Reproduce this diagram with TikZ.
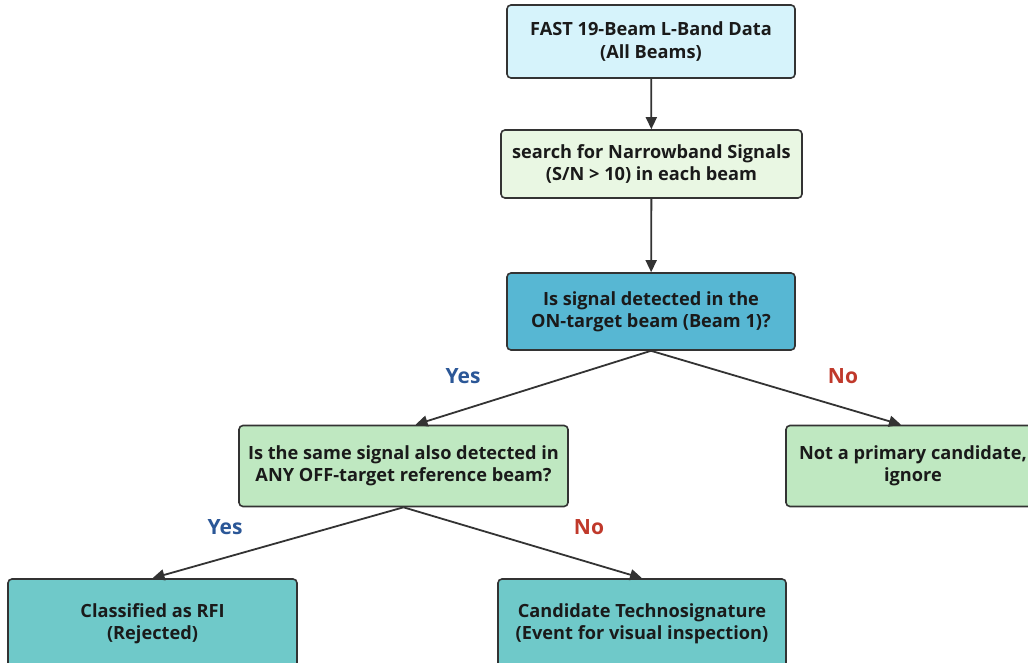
\documentclass[tikz,border=0pt]{standalone}
\usepackage{fontspec}
\setmainfont{Open Sans}
\usetikzlibrary{arrows.meta}
\definecolor{linegray}{HTML}{333333}
\definecolor{textgray}{HTML}{1A1A1A}
\definecolor{startfill}{HTML}{D6F3FB}
\definecolor{searchfill}{HTML}{E9F7E3}
\definecolor{askfill}{HTML}{57B7D3}
\definecolor{checkfill}{HTML}{BFE8C1}
\definecolor{endfill}{HTML}{6FC9C9}
\definecolor{yesblue}{HTML}{2B5797}
\definecolor{nored}{HTML}{C0392B}

\begin{document}
\begin{tikzpicture}[x=0.5pt,y=-0.5pt,
  box/.style={draw=linegray, line width=0.8pt, rounded corners=2pt,
    align=center, inner sep=0pt, text=textgray,
    font=\bfseries\fontsize{9.1}{11.2}\selectfont},
  flow/.style={draw=linegray, line width=0.9pt,
    -{Triangle[length=6pt,width=5.5pt]}},
  yeslabel/.style={text=yesblue, font=\bfseries\fontsize{10.5}{12}\selectfont},
  nolabel/.style={text=nored, font=\bfseries\fontsize{10.5}{12}\selectfont}]

\fill[white] (0,0) rectangle (1028,663);
\clip (0,0) rectangle (1028,663);

% boxes
\node[box, fill=startfill, minimum width=144pt, minimum height=36.5pt]
  (data) at (651,41.5) {FAST 19-Beam L-Band Data\\(All Beams)};
\node[box, fill=searchfill, minimum width=150.5pt, minimum height=34pt]
  (search) at (651.5,164) {search for Narrowband Signals\\(S/N > 10) in each beam};
\node[box, fill=askfill, minimum width=144pt, minimum height=38.5pt]
  (ontarget) at (651,311.5) {Is signal detected in the\\ON-target beam (Beam 1)?};
\node[box, fill=checkfill, minimum width=164.5pt, minimum height=40.5pt]
  (offtarget) at (403.5,466) {Is the same signal also detected in\\ANY OFF-target reference beam?};
\node[box, fill=checkfill, minimum width=127pt, minimum height=40.5pt]
  (ignore) at (913,466) {Not a primary candidate,\\ignore};
\node[box, fill=endfill, minimum width=144.5pt, minimum height=45pt]
  (rfi) at (152.5,624) {Classified as RFI\\(Rejected)};
\node[box, fill=endfill, minimum width=144pt, minimum height=45pt]
  (candidate) at (642,624) {Candidate Technosignature\\(Event for visual inspection)};

% connectors
\draw[flow] (data) -- (search);
\draw[flow] (search) -- (ontarget);
\draw[flow] (ontarget.south) -- ([xshift=6pt]offtarget.north);
\draw[flow] (ontarget.south) -- ([xshift=-6pt]ignore.north);
\draw[flow] (offtarget.south) -- (rfi.north);
\draw[flow] (offtarget.south) -- (candidate.north);

% branch labels
\node[yeslabel] (yes1) at (463,376) {Yes};
\node[nolabel] (no1) at (843,376) {No};
\node[yeslabel] (yes2) at (225,527) {Yes};
\node[nolabel] (no2) at (589,527) {No};

\end{tikzpicture}
\end{document}
